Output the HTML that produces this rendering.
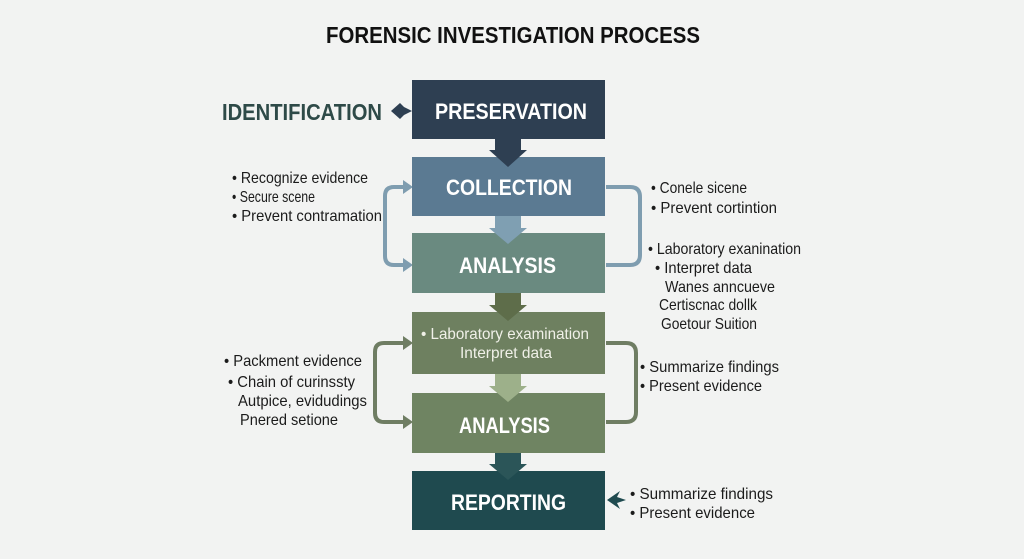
<!DOCTYPE html>
<html><head><meta charset="utf-8"><style>
html,body{margin:0;padding:0;background:#f2f3f2;}
svg{display:block;font-family:"Liberation Sans",sans-serif;}
.b{font-size:16px;fill:#1b1b1b;}
.h{font-weight:bold;fill:#fff;font-size:22px;}
</style></head><body>
<svg width="1024" height="559" viewBox="0 0 1024 559">
<rect width="1024" height="559" fill="#f2f3f2"/>
<text x="326" y="43" font-size="23" font-weight="bold" fill="#111" textLength="374" lengthAdjust="spacingAndGlyphs">FORENSIC INVESTIGATION PROCESS</text>

<g fill="none" stroke-width="4">
<path d="M405 187 H394 Q385 187 385 196 V256 Q385 265 394 265 H405" stroke="#7f9db0"/>
<path d="M606 187 H630 Q640 187 640 197 V255 Q640 265 630 265 H606" stroke="#7f9db0"/>
<path d="M405 343 H384 Q375 343 375 352 V413 Q375 422 384 422 H405" stroke="#6f7d63"/>
<path d="M606 343 H626 Q636 343 636 353 V412 Q636 422 626 422 H606" stroke="#6f7d63"/>
</g>
<polygon points="403,180 413,187 403,194" fill="#7f9db0"/>
<polygon points="403,258 413,265 403,272" fill="#7f9db0"/>
<polygon points="403,336 413,343 403,350" fill="#6f7d63"/>
<polygon points="403,415 413,422 403,429" fill="#6f7d63"/>

<rect x="412" y="80" width="193" height="59" fill="#2e3f52"/>
<rect x="412" y="157" width="193" height="59" fill="#5b7a92"/>
<rect x="412" y="233" width="193" height="60" fill="#6a8a80"/>
<rect x="412" y="312" width="193" height="62" fill="#6e8060"/>
<rect x="412" y="393" width="193" height="60" fill="#6f8462"/>
<rect x="412" y="471" width="193" height="59" fill="#1f4a4f"/>

<polygon points="495,139 521,139 521,150 527,150 508,167 489,150 495,150" fill="#2e3f52"/>
<polygon points="495,216 521,216 521,228 527,228 508,244 489,228 495,228" fill="#7f9fb2"/>
<polygon points="495,293 521,293 521,305 527,305 508,321 489,305 495,305" fill="#5e6d4a"/>
<polygon points="495,374 521,374 521,386 527,386 508,402 489,386 495,386" fill="#9db08a"/>
<polygon points="495,453 521,453 521,464 527,464 508,480 489,464 495,464" fill="#2b5558"/>
<polygon points="391,111 400,103 404,107 412,111 404,115 400,119" fill="#2e3f52"/>
<polygon points="607,500 620,491 617,497 626,500 617,503 620,509" fill="#1f4a4f"/>

<text class="h" x="435" y="119" textLength="152" lengthAdjust="spacingAndGlyphs">PRESERVATION</text>
<text class="h" x="446" y="195" textLength="126" lengthAdjust="spacingAndGlyphs">COLLECTION</text>
<text class="h" x="459" y="273" textLength="97" lengthAdjust="spacingAndGlyphs">ANALYSIS</text>
<text class="h" x="459" y="433" textLength="91" lengthAdjust="spacingAndGlyphs">ANALYSIS</text>
<text class="h" x="451" y="510" textLength="115" lengthAdjust="spacingAndGlyphs">REPORTING</text>
<text x="222" y="120" font-size="23" font-weight="bold" fill="#2e4a48" textLength="160" lengthAdjust="spacingAndGlyphs">IDENTIFICATION</text>
<text x="421" y="339" font-size="16" fill="#f0f0e8" textLength="168" lengthAdjust="spacingAndGlyphs">• Laboratory examination</text>
<text x="460" y="358" font-size="16" fill="#f0f0e8" textLength="92" lengthAdjust="spacingAndGlyphs">Interpret data</text>

<g class="b">
<text x="232" y="183" textLength="136" lengthAdjust="spacingAndGlyphs">• Recognize evidence</text>
<text x="232" y="202" textLength="83" lengthAdjust="spacingAndGlyphs">• Secure scene</text>
<text x="232" y="221" textLength="150" lengthAdjust="spacingAndGlyphs">• Prevent contramation</text>
<text x="651" y="193" textLength="96" lengthAdjust="spacingAndGlyphs">• Conele sicene</text>
<text x="651" y="213" textLength="126" lengthAdjust="spacingAndGlyphs">• Prevent cortintion</text>
<text x="648" y="254" textLength="153" lengthAdjust="spacingAndGlyphs">• Laboratory exanination</text>
<text x="655" y="273" textLength="97" lengthAdjust="spacingAndGlyphs">• Interpret data</text>
<text x="665" y="292" textLength="110" lengthAdjust="spacingAndGlyphs">Wanes anncueve</text>
<text x="659" y="310" textLength="98" lengthAdjust="spacingAndGlyphs">Certiscnac dollk</text>
<text x="661" y="329" textLength="96" lengthAdjust="spacingAndGlyphs">Goetour Suition</text>
<text x="224" y="366" textLength="138" lengthAdjust="spacingAndGlyphs">• Packment evidence</text>
<text x="228" y="387" textLength="127" lengthAdjust="spacingAndGlyphs">• Chain of curinssty</text>
<text x="238" y="406" textLength="129" lengthAdjust="spacingAndGlyphs">Autpice, evidudings</text>
<text x="240" y="425" textLength="98" lengthAdjust="spacingAndGlyphs">Pnered setione</text>
<text x="640" y="372" textLength="139" lengthAdjust="spacingAndGlyphs">• Summarize findings</text>
<text x="640" y="391" textLength="122" lengthAdjust="spacingAndGlyphs">• Present evidence</text>
<text x="630" y="499" textLength="143" lengthAdjust="spacingAndGlyphs">• Summarize findings</text>
<text x="630" y="518" textLength="125" lengthAdjust="spacingAndGlyphs">• Present evidence</text>
</g>
</svg>
</body></html>
